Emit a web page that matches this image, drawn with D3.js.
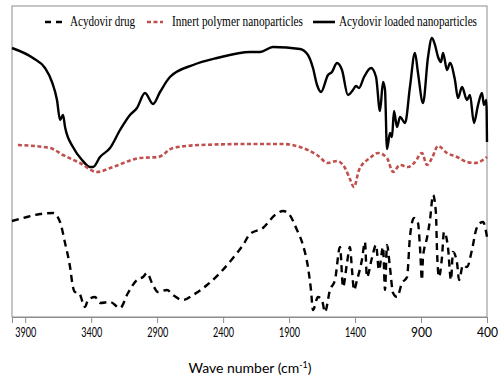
<!DOCTYPE html>
<html>
<head>
<meta charset="utf-8">
<script src="https://cdn.jsdelivr.net/npm/d3@7"></script>
<style>
  body { margin: 0; background: #fff; }
  svg { display: block; }
</style>
</head>
<body>
<div class="canvas"></div>
<script>
var width = 500,
   height = 383;

// legend / series names
const seriesNames = ['Acydovir drug', 'Innert polymer nanoparticles', 'Acydovir loaded nanoparticles'];

// tick labels on the wave number axis
const xTicks = [3900, 3400, 2900, 2400, 1900, 1400, 900, 400];

// Acydovir drug (relative transmittance, arbitrary units)
const drugWave = [4000, 3886, 3788, 3689, 3636, 3598, 3560, 3538, 3523, 3492, 3447, 3424, 3371, 3333, 3257, 3181,
   3121, 3053, 3007, 2977, 2939, 2893, 2825, 2780, 2704, 2628, 2522, 2424, 2325, 2249, 2196, 2098, 2007, 1946,
   1908, 1840, 1795, 1757, 1734, 1719, 1681, 1651, 1628, 1590, 1552, 1514, 1491, 1461, 1439, 1423, 1408, 1385,
   1348, 1325, 1310, 1272, 1241, 1219, 1188, 1173, 1158, 1135, 1112, 1082, 1044, 1006, 984, 953, 923, 908, 893,
   885, 855, 832, 809, 787, 779, 764, 741, 726, 696, 673, 658, 627, 612, 582, 552, 514, 483, 453, 430, 400];
const drugT = [96, 100, 103, 104, 95, 74, 50, 30, 25, 24, 10, 17, 20, 14, 15, 9,
   24, 37, 40, 44, 34, 25, 27, 22, 17, 22, 32, 44, 59, 72, 83, 89, 102, 106,
   104, 87, 72, 50, 27, 7, 20, 17, 5, 27, 37, 70, 30, 54, 70, 47, 27, 37,
   57, 75, 40, 59, 72, 47, 70, 27, 72, 49, 24, 20, 34, 40, 80, 99, 94, 70, 37,
   60, 79, 97, 122, 104, 67, 40, 60, 85, 70, 37, 65, 54, 37, 52, 50, 67, 87, 94, 95, 80];

// Innert polymer nanoparticles
const polyWave = [3955, 3712, 3613, 3485, 3356, 3235, 3030, 2893, 2780, 2575, 2196, 1946, 1817, 1688, 1605, 1537,
   1476, 1439, 1408, 1370, 1287, 1226, 1158, 1112, 1059, 999, 946, 893, 855, 817, 771, 703, 627, 552, 491, 400];
const polyT = [172, 169, 162, 154, 145, 150, 159, 160, 169, 172, 173, 173, 170, 162, 154, 156,
   149, 138, 130, 147, 159, 164, 159, 145, 152, 150, 155, 164, 152, 159, 171, 164, 160, 155, 154, 160];

// Acydovir loaded nanoparticles
const loadedWave = [4000, 3841, 3750, 3697, 3659, 3636, 3613, 3598, 3538, 3469, 3409, 3386, 3333, 3257, 3181, 3106,
   3053, 2992, 2931, 2878, 2803, 2628, 2446, 2196, 2120, 2022, 1817, 1757, 1719, 1688, 1658, 1605, 1575, 1537,
   1499, 1454, 1416, 1393, 1370, 1332, 1279, 1241, 1211, 1188, 1173, 1158, 1135, 1120, 1105, 1082, 1059, 1021,
   984, 946, 923, 885, 847, 817, 794, 771, 749, 733, 703, 680, 643, 620, 589, 552, 529, 499, 468, 438, 423, 405, 400];
const loadedT = [269, 259, 249, 235, 217, 197, 202, 190, 170, 157, 150, 150, 160, 169, 187, 202,
   209, 224, 213, 225, 240, 252, 259, 265, 265, 270, 268, 262, 249, 232, 225, 242, 245, 254,
   247, 222, 227, 231, 229, 240, 249, 240, 206, 235, 227, 168, 184, 180, 206, 190, 200, 194,
   230, 264, 244, 214, 260, 279, 272, 260, 255, 264, 247, 254, 237, 219, 230, 217, 222, 194, 212, 224, 212, 217, 175];

const margin = {left: 12, right: 13, top: 6, bottom: 66};

var x = d3.scaleLinear()
   .domain([4000, 400])
   .range([margin.left, width - margin.right]);

var y = d3.scaleLinear()
   .domain([0, 311])
   .range([height - margin.bottom, margin.top]);

var svg = d3.select('.canvas')
   .append('svg')
   .attr('width', width)
   .attr('height', height);

// plot frame
svg.append('rect')
   .attr('x', x(4000))
   .attr('y', y(311))
   .attr('width', x(400) - x(4000))
   .attr('height', y(0) - y(311))
   .attr('fill', 'none')
   .attr('stroke', '#8c8c8c')
   .attr('stroke-width', 1);

var line = d3.line()
   .x(d => x(d[0]))
   .y(d => y(d[1]))
   .curve(d3.curveMonotoneX);

const series = [
   {wave: loadedWave, t: loadedT, color: '#000', dash: null, width: 2.4},
   {wave: polyWave, t: polyT, color: '#c0504d', dash: '4,2.5', width: 2.6},
   {wave: drugWave, t: drugT, color: '#000', dash: '7,5', width: 2.4}
];

svg.selectAll('.spectrum')
   .data(series)
   .enter().append('path')
      .attr('class', 'spectrum')
      .attr('d', s => line(d3.zip(s.wave, s.t)))
      .attr('fill', 'none')
      .attr('stroke', s => s.color)
      .attr('stroke-width', s => s.width)
      .attr('stroke-dasharray', s => s.dash)
      .attr('stroke-linejoin', 'round');

// x axis
var xAxis = svg.append('g')
   .attr('transform', 'translate(0,' + y(0) + ')')
   .call(d3.axisBottom(x).tickValues(xTicks).tickSize(6).tickPadding(5).tickFormat(d3.format('d')));

xAxis.select('.domain').attr('stroke', '#8c8c8c');
xAxis.selectAll('.tick line').attr('stroke', '#8c8c8c');
xAxis.selectAll('.tick text')
   .attr('fill', '#000')
   .style('font-family', 'Lato, "Open Sans", sans-serif')
   .style('font-size', '13px')
   .attr('textLength', 21)
   .attr('lengthAdjust', 'spacingAndGlyphs');

// axis title
var title = svg.append('text')
   .attr('x', 250)
   .attr('y', 373)
   .attr('text-anchor', 'middle')
   .style('font-family', 'Lato, "Open Sans", sans-serif')
   .style('font-size', '14px')
   .attr('fill', '#000');
title.append('tspan').text('Wave number (cm');
title.append('tspan').attr('dy', -5).style('font-size', '9px').text('-1');
title.append('tspan').attr('dy', 5).text(')');

// legend
const legendItems = [
   {name: seriesNames[0], x1: 45, x2: 62, tx: 70, tw: 65, color: '#000', dash: '6,5'},
   {name: seriesNames[1], x1: 147, x2: 163, tx: 172, tw: 131, color: '#c0504d', dash: '4,2.5'},
   {name: seriesNames[2], x1: 313, x2: 335, tx: 339, tw: 138, color: '#000', dash: null}
];

var legend = svg.selectAll('.legend')
   .data(legendItems)
   .enter().append('g')
      .attr('class', 'legend');

legend.append('line')
   .attr('x1', d => d.x1)
   .attr('x2', d => d.x2)
   .attr('y1', 22)
   .attr('y2', 22)
   .attr('stroke', d => d.color)
   .attr('stroke-width', 2.6)
   .attr('stroke-dasharray', d => d.dash);

legend.append('text')
   .attr('x', d => d.tx)
   .attr('y', 26)
   .attr('textLength', d => d.tw)
   .attr('lengthAdjust', 'spacingAndGlyphs')
   .style('font-family', '"Liberation Serif", serif')
   .style('font-size', '14px')
   .attr('fill', '#000')
   .text(d => d.name);
</script>
</body>
</html>
